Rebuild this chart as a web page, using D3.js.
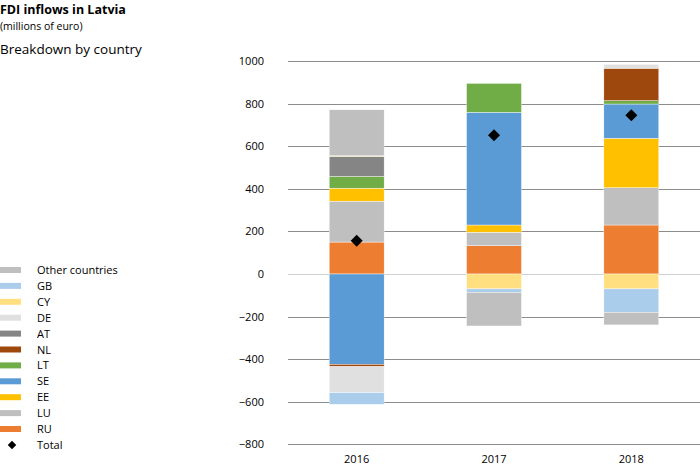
<!DOCTYPE html>
<html><head><meta charset="utf-8">
<script src="https://cdn.jsdelivr.net/npm/d3@7"></script>
<style>body{margin:0;background:#fff;font-family:"Open Sans",Lato,sans-serif}</style>
</head><body><svg id="c" width="700" height="466"></svg>
<script>
const years = ["2016","2017","2018"];
const countries = ["RU","LU","EE","SE","LT","NL","AT","DE","CY","GB","Other countries"];
const RU = [150, 133, 230];
const LU = [192, 63, 175];
const EE = [61, 34, 232];
const SE = [-424, 529, 161];
const LT = [55, 136, 16];
const NL = [-11, 0, 152];
const AT = [94, 0, 0];
const DE = [-122, 0, 18];
const CY = [3, -70, -70];
const GB = [-55, -16, -110];
const Other = [216, -158, -59];
const Total = [156, 651, 745];
const yTicks = [1000, 800, 600, 400, 200, 0, -200, -400, -600, -800];
const colors = ["#ED7D31","#BFBFBF","#FFC000","#5B9BD5","#70AD47","#9E480E","#858585","#E0E0E0","#FFDF80","#ABCDEC","#BFBFBF"];

const seriesVals = [RU, LU, EE, SE, LT, NL, AT, DE, CY, GB, Other];
const rows = years.map((y, i) => {
  const r = {year: y};
  countries.forEach((c, k) => r[c] = seriesVals[k][i]);
  return r;
});

const svg = d3.select("#c");
const x = d3.scaleBand().domain(years).range([288, 700]).paddingInner(0.6).paddingOuter(0.3);
const y = d3.scaleLinear().domain([-800, 1000]).range([444.4, 61]);

svg.append("g").selectAll("line").data(yTicks).join("line")
  .attr("x1", 288).attr("x2", 700)
  .attr("y1", d => Math.round(y(d)) + 0.5).attr("y2", d => Math.round(y(d)) + 0.5)
  .attr("stroke", d => d === 0 ? "#d0d0d0" : "#8c8c8c").attr("stroke-width", 1);

svg.append("g").selectAll("text").data(yTicks).join("text")
  .attr("x", 264).attr("y", d => y(d) + 4)
  .attr("text-anchor", "end").attr("font-size", 11).attr("fill", "#000")
  .text(d => d < 0 ? "\u2212" + Math.abs(d) : d);

svg.append("g").selectAll("text").data(years).join("text")
  .attr("x", d => x(d) + x.bandwidth() / 2).attr("y", 463)
  .attr("text-anchor", "middle").attr("font-size", 11).text(d => d);

const stack = d3.stack().keys(countries).offset(d3.stackOffsetDiverging);
const stacked = stack(rows);
svg.append("g").selectAll("g").data(stacked).join("g")
  .attr("fill", (d, i) => colors[i])
  .selectAll("rect").data(d => d.filter(p => p[1] !== p[0])).join("rect")
  .attr("x", d => x(d.data.year)).attr("width", x.bandwidth())
  .attr("y", d => y(Math.max(d[0], d[1])))
  .attr("height", d => Math.abs(y(d[0]) - y(d[1])))
  .attr("stroke", "#fff").attr("stroke-width", 0.4);

svg.append("g").selectAll("path").data(years).join("path")
  .attr("d", d3.symbol().type(d3.symbolSquare).size(72))
  .attr("transform", (d, i) => `translate(${x(d) + x.bandwidth() / 2},${y(Total[i])}) rotate(45)`)
  .attr("fill", "#000");

svg.append("text").attr("x", 0).attr("y", 14).attr("font-size", 12.5).attr("font-weight", "bold").text("FDI inflows in Latvia");
svg.append("text").attr("x", 0).attr("y", 29.5).attr("font-size", 10.5).text("(millions of euro)");
svg.append("text").attr("x", 0).attr("y", 54).attr("font-size", 13.5).text("Breakdown by country");

const legendItems = countries.map((c, i) => ({name: c, color: colors[i]})).reverse();
const lg = svg.append("g");
legendItems.forEach((d, i) => {
  const yy = 270 + i * 15.9;
  lg.append("rect").attr("x", 0).attr("y", yy - 3).attr("width", 21).attr("height", 6).attr("fill", d.color);
  lg.append("text").attr("x", 37).attr("y", yy + 4).attr("font-size", 11).text(d.name);
});
const ty = 270 + 11 * 15.9;
lg.append("path").attr("d", d3.symbol().type(d3.symbolSquare).size(36))
  .attr("transform", `translate(12,${ty}) rotate(45)`).attr("fill", "#000");
lg.append("text").attr("x", 37).attr("y", ty + 4).attr("font-size", 11).text("Total");
</script></body></html>
